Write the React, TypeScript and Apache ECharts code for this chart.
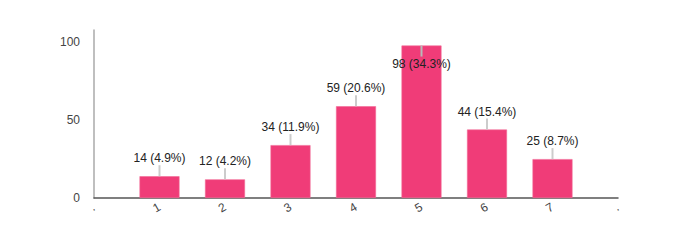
import React, { useEffect, useRef } from "react";
import * as echarts from "echarts";

const categories = [".", "1", "2", "3", "4", "5", "6", "7", "."];
const counts: (number | null)[] = [null, 14, 12, 34, 59, 98, 44, 25, null];
const percents = ["", "4.9%", "4.2%", "11.9%", "20.6%", "34.3%", "15.4%", "8.7%", ""];
const yTicks = [0, 50, 100];

const FONT = "Arial, 'Liberation Sans', sans-serif";

export default function App() {
  const ref = useRef<HTMLDivElement>(null);
  useEffect(() => {
    if (!ref.current) return;
    const chart = echarts.init(ref.current, null, { renderer: "svg" });
    const labelData = counts
      .map((v, i) => (v == null ? null : [i, v]))
      .filter((d) => d != null);
    chart.setOption({
      animation: false,
      grid: { left: 94, right: 82, top: 30, bottom: 42 },
      xAxis: {
        type: "category",
        data: categories,
        boundaryGap: false,
        axisLine: { lineStyle: { color: "#555", width: 1.5 } },
        axisTick: { show: false },
        axisLabel: {
          rotate: 30,
          color: "#444",
          fontFamily: FONT,
          fontSize: 12,
          margin: 8,
          interval: 0,
        },
        splitLine: { show: false },
      },
      yAxis: {
        type: "value",
        min: 0,
        max: 108,
        interval: 50,
        axisLine: { show: true, lineStyle: { color: "#aaa", width: 1.5 } },
        axisTick: { show: false },
        splitLine: { show: false },
        axisLabel: {
          color: "#444",
          fontFamily: FONT,
          fontSize: 12,
          margin: 14,
          showMaxLabel: false,
          formatter: (v: number) => (yTicks.includes(v) ? String(v) : ""),
        },
      },
      series: [
        {
          type: "bar",
          data: counts.map((v) => (v == null ? "-" : v)),
          barWidth: 40,
          itemStyle: { color: "#f03c78", borderColor: "#f26a96", borderWidth: 0.6 },
          z: 2,
        },
        {
          type: "custom",
          data: labelData,
          z: 5,
          renderItem: (params: any, api: any) => {
            const idx = api.value(0);
            const val = api.value(1);
            const p = api.coord([idx, val]);
            const top = params.coordSys.y;
            const inside = p[1] - 26 < top;
            const text = `${val} (${percents[idx]})`;
            const y1 = inside ? p[1] : p[1] - 11;
            const y2 = inside ? p[1] + 11 : p[1];
            const ty = inside ? p[1] + 18 : p[1] - 18;
            return {
              type: "group",
              children: [
                {
                  type: "line",
                  shape: { x1: p[0], y1, x2: p[0], y2 },
                  style: { stroke: inside ? "#b9b9b9" : "#cccccc", lineWidth: 2 },
                },
                {
                  type: "text",
                  x: p[0],
                  y: ty,
                  style: {
                    text,
                    fill: "#222",
                    font: `12px ${FONT}`,
                    textAlign: "center",
                    textVerticalAlign: "middle",
                  },
                },
              ],
            };
          },
        },
      ],
    });
    return () => chart.dispose();
  }, []);
  return (
    <div
      ref={ref}
      style={{ position: "absolute", left: 0, top: 0, width: 700, height: 240 }}
    />
  );
}
